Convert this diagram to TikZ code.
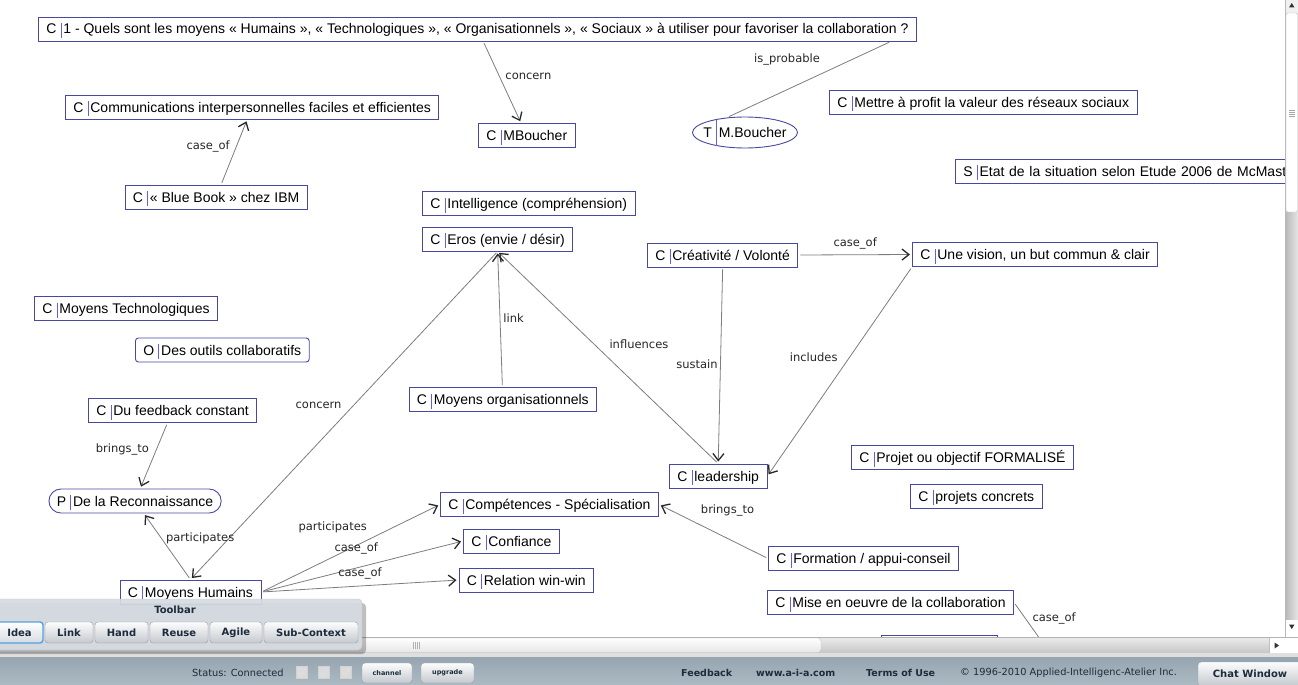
\documentclass[tikz,border=0pt]{standalone}
\usepackage{fontspec}
\setmainfont{Liberation Sans}
\newfontfamily\uifont{DejaVu Sans}
\usetikzlibrary{arrows.meta,shapes.geometric,calc}
\definecolor{boxblue}{RGB}{72,72,160}
\definecolor{barblue}{RGB}{96,96,230}
\definecolor{edgegray}{RGB}{125,125,125}
\definecolor{tipgray}{RGB}{40,40,40}
\definecolor{uitext}{RGB}{28,44,60}
\definecolor{bartop}{RGB}{150,165,176}
\definecolor{barbot}{RGB}{172,186,195}
\definecolor{panel}{RGB}{214,220,226}
\definecolor{btnedge}{RGB}{150,158,166}
\definecolor{ideablue}{RGB}{88,160,222}
\newcommand\sepbar[2]{{\color{barblue}\vrule width 0.8pt height #1 depth #2}}
\newcommand\cbar{\sepbar{11pt}{4pt}}
\newcommand\ctext[2]{#1\hspace{4pt}\cbar\hspace{2pt}#2}
\tikzset
{
    cbox/.style = {rectangle, draw=boxblue, line width=0.9pt, fill=white, anchor=west, inner xsep=8pt, inner ysep=0pt, minimum height=24pt, text height=12pt, text depth=2pt, font=\fontsize{14}{16}\selectfont},
    obox/.style = {cbox, rounded corners=3pt},
    pbox/.style = {cbox, rounded corners=12pt},
    tbox/.style = {ellipse, draw=boxblue, line width=0.9pt, fill=white, inner xsep=-4.5pt, inner ysep=0pt, minimum width=105pt, minimum height=31pt, text height=12pt, text depth=2pt, font=\fontsize{14}{16}\selectfont},
    conn/.style = {draw=edgegray, line width=0.8pt, shorten <=2pt, shorten >=2pt, -{Straight Barb[length=7pt,width=11pt,line width=1.3pt,color=tipgray]}},
    undirected/.style = {draw=edgegray, line width=0.8pt, shorten <=2pt, shorten >=2pt},
    lbl/.style = {inner sep=0pt, font=\uifont\fontsize{11.5}{13}\selectfont, text=black!85},
    btn/.style = {rectangle, rounded corners=3pt, draw=btnedge, top color=white!92!panel, bottom color=panel!80!gray, minimum height=21pt, inner sep=0pt, font=\uifont\bfseries\fontsize{10}{12}\selectfont, text=uitext},
    smallbtn/.style = {btn, minimum height=20pt, font=\uifont\bfseries\fontsize{6.5}{8}\selectfont},
    status/.style = {inner sep=0pt, anchor=west, font=\uifont\fontsize{9.8}{12}\selectfont, text=uitext}
}
\begin{document}
\begin{tikzpicture}[x=1pt, y=-1pt]
    \useasboundingbox (0,0) rectangle (1298,685);
    \fill[white] (0,0) rectangle (1298,685);
    % the map
    \node (q)      [cbox] at (38,29)      {\ctext{C}{1 - Quels sont les moyens « Humains », « Technologiques », « Organisationnels », « Sociaux » à utiliser pour favoriser la collaboration ?}};
    \node (comm)   [cbox] at (65,107)     {\ctext{C}{Communications interpersonnelles faciles et efficientes}};
    \node (mb)     [cbox] at (478,135.5)  {\ctext{C}{MBoucher}};
    \node (t)      [tbox] at (745,132.5)  {T\hspace{4pt}\sepbar{18pt}{8pt}\hspace{2pt}M.Boucher};
    \node (mettre) [cbox] at (829,102)    {\ctext{C}{Mettre à profit la valeur des réseaux sociaux}};
    \node (etat)   [cbox, text width=330pt, align=left] at (955,171) {\mbox{\ctext{S}{Etat de la situation selon Etude 2006 de McMaste}}};
    \node (bb)     [cbox] at (124.5,197)  {\ctext{C}{« Blue Book » chez IBM}};
    \node (intel)  [cbox] at (422,203.5)  {\ctext{C}{Intelligence (compréhension)}};
    \node (eros)   [cbox] at (422,239)    {\ctext{C}{Eros (envie / désir)}};
    \node (crea)   [cbox] at (647,255)    {\ctext{C}{Créativité / Volonté}};
    \node (vision) [cbox] at (912,254.5)  {\ctext{C}{Une vision, un but commun \& clair}};
    \node (mt)     [cbox] at (34,308.5)   {\ctext{C}{Moyens Technologiques}};
    \node (outils) [obox] at (135,350)    {\ctext{O}{Des outils collaboratifs}};
    \node (mo)     [cbox] at (408.5,399.5){\ctext{C}{Moyens organisationnels}};
    \node (fb)     [cbox] at (88,410.5)   {\ctext{C}{Du feedback constant}};
    \node (lead)   [cbox] at (669,476)    {\ctext{C}{leadership}};
    \node (projet) [cbox] at (851,457.5)  {\ctext{C}{Projet ou objectif FORMALISÉ}};
    \node (pc)     [cbox] at (910,496)    {\ctext{C}{projets concrets}};
    \node (rec)    [pbox] at (48.5,501)   {\ctext{P}{De la Reconnaissance}};
    \node (comp)   [cbox] at (440,504.5)  {\ctext{C}{Compétences - Spécialisation}};
    \node (conf)   [cbox] at (463,541)    {\ctext{C}{Confiance}};
    \node (form)   [cbox] at (768,558.5)  {\ctext{C}{Formation / appui-conseil}};
    \node (rel)    [cbox] at (458.5,580)  {\ctext{C}{Relation win-win}};
    \node (mh)     [cbox] at (119.5,592)  {\ctext{C}{Moyens Humains}};
    \node (mise)   [cbox] at (767,602.5)  {\ctext{C}{Mise en oeuvre de la collaboration}};
    \node (hid)    [cbox, minimum width=116pt] at (881,647) {};
    \coordinate (miseend) at (1062,670);
    % links
    \draw[conn] (q) -- node[lbl, pos=0.4, xshift=30pt, yshift=-2pt] {concern} (mb);
    \draw[undirected] ($(q.south east)+(-26,0)$) -- node[lbl, xshift=-22pt, yshift=19.5pt] {is\_probable} (t.140);
    \draw[conn] (bb) -- node[lbl, xshift=-26pt, yshift=6pt] {case\_of} (comm);
    \draw[conn] (mo) -- node[lbl, xshift=13.5pt, yshift=1pt] {link} (eros.south);
    \draw[conn] (lead.north) -- node[lbl, xshift=31pt, yshift=13.5pt] {influences} (eros.south);
    \draw[conn] (eros.south) -- node[lbl, xshift=-25.5pt, yshift=10.5pt] {concern} (mh.north);
    \draw[conn] (crea.south) -- node[lbl, xshift=-23.5pt, yshift=1.5pt] {sustain} (lead.north);
    \draw[conn] (crea.east) -- node[lbl, yshift=11pt] {case\_of} (vision.west);
    \draw[conn] (vision.south west) -- node[lbl, xshift=-26pt, yshift=14pt] {includes} (lead.east);
    \draw[conn] (fb) -- node[lbl, xshift=-31.5pt, yshift=6pt] {brings\_to} (rec);
    \draw[conn] (mh.north) -- node[lbl, xshift=33pt, yshift=8.5pt] {participates} (rec);
    \draw[conn] (mh.east) -- node[lbl, xshift=-18pt, yshift=21pt] {participates} (comp.west);
    \draw[conn] (mh.east) -- node[lbl, xshift=-6pt, yshift=18.5pt] {case\_of} (conf.west);
    \draw[conn] (mh.east) -- node[lbl, yshift=13pt] {case\_of} (rel.west);
    \draw[conn] (form.west) -- node[lbl, xshift=14pt, yshift=21.5pt] {brings\_to} (comp.east);
    \draw[conn] (mise.east) -- node[lbl, pos=0.3, xshift=25.7pt, yshift=4.75pt] {case\_of} (miseend);
    % vertical scroll bar
    \fill[gray!12] (1285,0) rectangle (1298,637);
    \draw[gray!55] (1285,0) -- (1285,637);
    \fill[black!80] (1289,7.5) -- (1294.5,7.5) -- (1291.75,3) -- cycle;
    \draw[gray!50, fill=white, rounded corners=2pt] (1286,13) rectangle (1297.5,212);
    \foreach \yy in {110,112,114,116}
        \draw[gray!70, line width=0.6pt] (1289,\yy) -- (1294.5,\yy);
    \shade[left color=gray!55, right color=gray!20] (1285.5,212) rectangle (1298,620);
    \fill[white] (1285.5,620) rectangle (1298,637);
    \fill[black!80] (1289,624.5) -- (1294.5,624.5) -- (1291.75,629) -- cycle;
    % horizontal scroll bar
    \shade[top color=gray!15, bottom color=gray!45] (0,637) rectangle (1285,653);
    \draw[gray!60] (0,637) -- (1298,637);
    \draw[gray!50, top color=white, bottom color=gray!20, rounded corners=3pt] (-5,638) rectangle (821,652.5);
    \foreach \xx in {413,415,417,419}
        \draw[gray!60, line width=0.6pt] (\xx,641.5) -- (\xx,648.5);
    \fill[white] (1269,638) rectangle (1298,653);
    \draw[gray!50] (1269,638) -- (1269,653);
    \fill[black!80] (1274.5,642.5) -- (1274.5,648.5) -- (1279,645.5) -- cycle;
    % status bar
    \fill[gray!25] (0,653) rectangle (1298,657);
    \shade[top color=bartop, bottom color=barbot] (0,657) rectangle (1298,685);
    \node (stat) [status] at (192,672.5) {Status: Connected};
    \foreach \xx in {296,318,340}
    {
        \draw[gray!35, fill=gray!28] (\xx,666) rectangle ++(11,12);
        \draw[white!75!gray, line width=1.2pt] (\xx+2.5,672) -- (\xx+5,675.5) -- (\xx+9,668);
    }
    \node (chan)  [smallbtn, minimum width=50pt] at (387,673)   {channel};
    \node (upg)   [smallbtn, minimum width=53pt] at (447.5,673) {upgrade};
    \node (feed)  [status, font=\uifont\bfseries\fontsize{9.5}{12}\selectfont] at (681,673) {Feedback};
    \node (site)  [status, font=\uifont\bfseries\fontsize{9.5}{12}\selectfont] at (756,673) {www.a-i-a.com};
    \node (terms) [status, font=\uifont\bfseries\fontsize{9.5}{12}\selectfont] at (866,673) {Terms of Use};
    \node (copy)  [status] at (960,673) {© 1996-2010 Applied-Intelligenc-Atelier Inc.};
    \node (chat)  [btn, minimum width=104pt, minimum height=24pt] at (1250,674) {Chat Window};
    % toolbar
    \fill[black, opacity=0.25, rounded corners=4pt] (-4,603) rectangle (366,654);
    \draw[gray!45, fill=panel, fill opacity=0.93, rounded corners=4pt] (-6,599) rectangle (362,650);
    \node (tbtitle) [inner sep=0pt, font=\uifont\bfseries\fontsize{10}{12}\selectfont, text=uitext] at (175,609.5) {Toolbar};
    \node (bidea)  [btn, draw=ideablue, line width=1.4pt, top color=white, bottom color=panel, minimum width=47pt] at (19.5,632.5) {Idea};
    \node (blink)  [btn, minimum width=48pt] at (69,632.5)    {Link};
    \node (bhand)  [btn, minimum width=53pt] at (121.5,632.5) {Hand};
    \node (breuse) [btn, minimum width=58pt] at (179,632.5)   {Reuse};
    \node (bagile) [btn, minimum width=52pt] at (236,632.5)   {Agile};
    \node (bsub)   [btn, minimum width=94pt] at (311,632.5)   {Sub-Context};
\end{tikzpicture}
\end{document}
